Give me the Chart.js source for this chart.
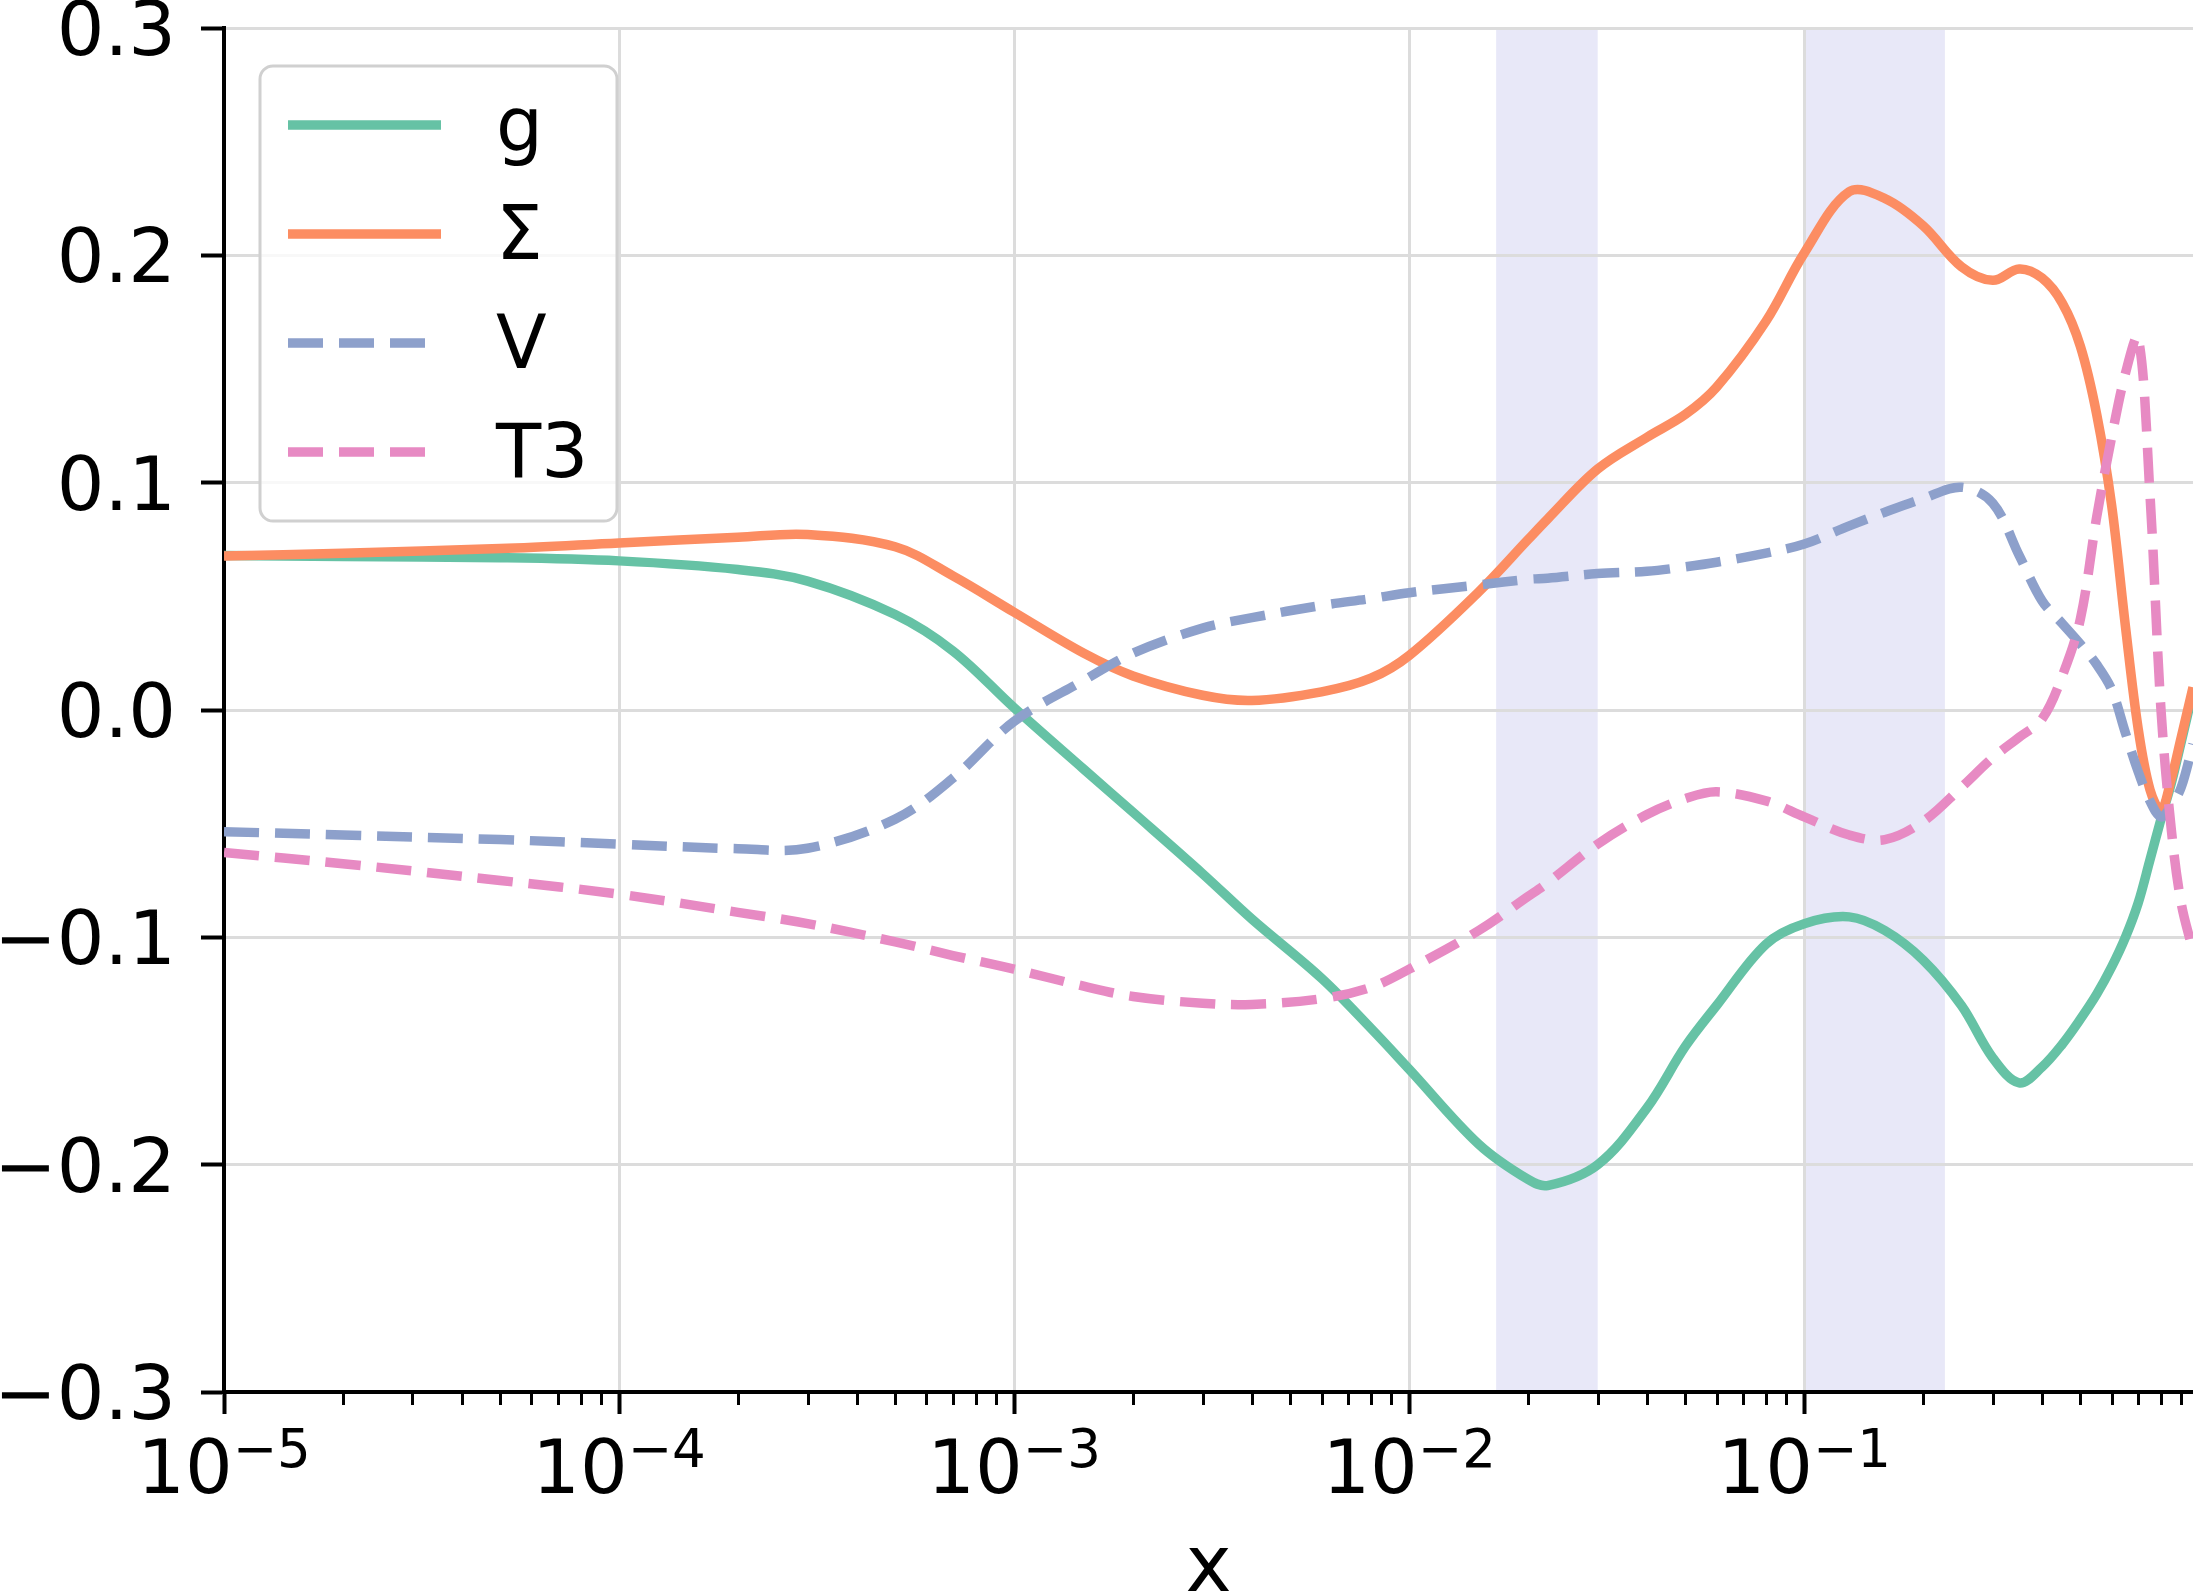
<!DOCTYPE html>
<html>
<head>
<meta charset="utf-8">
<script src="https://cdn.jsdelivr.net/npm/chart.js@4.4.0/dist/chart.umd.min.js"></script>
<style>
  html, body { margin: 0; padding: 0; background: #fff; }
  #wrap { width: 2193px; height: 1596px; }
</style>
</head>
<body>
<div id="wrap"><canvas id="pdfChart" width="2193" height="1596"></canvas></div>
<script>
const xValues = [0.00001, 0.00002, 0.00005, 0.0001, 0.0002, 0.0003, 0.0005, 0.0007,
  0.001, 0.0015, 0.002, 0.003, 0.004, 0.006, 0.008,
  0.01, 0.015, 0.02, 0.0224, 0.03, 0.04, 0.05, 0.06, 0.08,
  0.1, 0.13, 0.16, 0.2, 0.25, 0.3, 0.35, 0.4, 0.45, 0.5, 0.55, 0.6, 0.65, 0.7, 0.75, 0.8, 0.85, 0.9, 0.964];

const gValues = [0.068, 0.0675, 0.067, 0.0656, 0.0618, 0.0567, 0.042, 0.026,
  0.001, -0.026, -0.045, -0.072, -0.092, -0.118, -0.140,
  -0.158, -0.191, -0.2065, -0.2092, -0.200, -0.175, -0.148, -0.130, -0.103,
  -0.094, -0.091, -0.097, -0.110, -0.130, -0.153, -0.164, -0.157, -0.147, -0.136, -0.125, -0.113, -0.100, -0.085, -0.066, -0.048, -0.032, -0.014, 0.008];

const sigmaValues = [0.0677, 0.069, 0.071, 0.0735, 0.076, 0.0772, 0.0718, 0.059,
  0.043, 0.025, 0.015, 0.0065, 0.0042, 0.008, 0.014,
  0.024, 0.052, 0.075, 0.084, 0.106, 0.120, 0.130, 0.142, 0.171,
  0.201, 0.228, 0.225, 0.213, 0.195, 0.189, 0.194, 0.190, 0.179, 0.160, 0.130, 0.090, 0.037, -0.008, -0.035, -0.044, -0.030, -0.012, 0.010];

const vValues = [-0.0535, -0.055, -0.057, -0.059, -0.061, -0.0608, -0.048, -0.030,
  -0.005, 0.013, 0.025, 0.036, 0.0406, 0.046, 0.049,
  0.0516, 0.055, 0.0575, 0.058, 0.060, 0.061, 0.063, 0.065, 0.069,
  0.073, 0.081, 0.087, 0.093, 0.098, 0.091, 0.068, 0.048, 0.038, 0.029, 0.020, 0.009, -0.010, -0.027, -0.040, -0.047, -0.042, -0.034, -0.015];

const t3Values = [-0.0627, -0.0676, -0.075, -0.081, -0.089, -0.094, -0.102, -0.108,
  -0.114, -0.1215, -0.126, -0.129, -0.1295, -0.127, -0.122,
  -0.114, -0.097, -0.082, -0.076, -0.059, -0.046, -0.039, -0.036, -0.040,
  -0.047, -0.055, -0.057, -0.049, -0.034, -0.021, -0.012, -0.004, 0.015, 0.040, 0.085, 0.120, 0.148, 0.164, 0.095, 0.000, -0.053, -0.085, -0.106];

const seriesLabels = ['g', '\u03A3', 'V', 'T3'];
const seriesColors = ['#66c2a5', '#fc8d62', '#8da0cb', '#e78ac3'];

// shaded x ranges
const bandStarts = [0.0166, 0.1];
const bandEnds = [0.030, 0.227];

// axis ticks
const xDecades = [0.00001, 0.0001, 0.001, 0.01, 0.1];
const xDecadeExponents = ['\u22125', '\u22124', '\u22123', '\u22122', '\u22121'];
const xMin = 0.00001, xMax = 0.964;
const yMin = -0.3, yMax = 0.3, yStep = 0.1;

const FONT = 'DejaVu Sans';
Chart.defaults.font.family = FONT;
Chart.defaults.color = '#000';

function toPoints(vals) {
  return xValues.map((x, i) => ({ x: x, y: vals[i] }));
}

function isDecade(v) {
  const l = Math.log10(v);
  return Math.abs(l - Math.round(l)) < 1e-6;
}

function yLabel(v) {
  return Math.abs(v) < 1e-9 ? '0.0' : Number(v).toFixed(1).replace('-', '\u2212');
}

// lavender spans behind the grid
const bandPlugin = {
  id: 'bands',
  beforeDraw(chart) {
    const { ctx, chartArea, scales } = chart;
    ctx.save();
    ctx.fillStyle = '#e8e8f8';
    bandStarts.forEach((s, i) => {
      const a = scales.x.getPixelForValue(s);
      const b = scales.x.getPixelForValue(bandEnds[i]);
      ctx.fillRect(a, chartArea.top, b - a, chartArea.bottom - chartArea.top);
    });
    ctx.restore();
  }
};

// minor log ticks, 10^n labels and y labels
const axisPlugin = {
  id: 'axisDeco',
  afterDraw(chart) {
    const { ctx, chartArea } = chart;
    const xs = chart.scales.x;
    const ys = chart.scales.y;
    ctx.save();
    ctx.strokeStyle = '#000';
    ctx.lineWidth = 3;
    xDecades.forEach(d => {
      for (let k = 2; k <= 9; k++) {
        const v = k * d;
        if (v > xMax) break;
        const px = Math.round(xs.getPixelForValue(v)) + 0.5;
        ctx.beginPath();
        ctx.moveTo(px, chartArea.bottom);
        ctx.lineTo(px, chartArea.bottom + 13);
        ctx.stroke();
      }
    });
    ctx.fillStyle = '#000';
    ctx.textBaseline = 'alphabetic';
    ctx.textAlign = 'left';
    xDecades.forEach((d, i) => {
      const px = xs.getPixelForValue(d);
      ctx.font = '75px "' + FONT + '"';
      const w1 = ctx.measureText('10').width;
      ctx.font = '53px "' + FONT + '"';
      const w2 = ctx.measureText(xDecadeExponents[i]).width;
      const start = px - (w1 + w2) / 2;
      ctx.font = '75px "' + FONT + '"';
      ctx.fillText('10', start, chartArea.bottom + 101);
      ctx.font = '53px "' + FONT + '"';
      ctx.fillText(xDecadeExponents[i], start + w1, chartArea.bottom + 75);
    });
    ctx.font = '75px "' + FONT + '"';
    ctx.textAlign = 'right';
    ys.ticks.forEach(t => {
      const py = ys.getPixelForValue(t.value);
      ctx.fillText(yLabel(t.value), chartArea.left - 48, py + 27);
    });
    ctx.restore();
  }
};

// matplotlib-like legend box, upper left
const legendPlugin = {
  id: 'boxLegend',
  afterDraw(chart) {
    const { ctx } = chart;
    const box = { x: 260, y: 66, w: 357, h: 455, r: 13 };
    ctx.save();
    ctx.beginPath();
    ctx.roundRect(box.x, box.y, box.w, box.h, box.r);
    ctx.fillStyle = 'rgba(255,255,255,0.8)';
    ctx.fill();
    ctx.lineWidth = 3;
    ctx.strokeStyle = '#d0d0d0';
    ctx.stroke();
    chart.data.datasets.forEach((ds, i) => {
      const y = 125 + i * 109;
      ctx.beginPath();
      ctx.setLineDash(ds.borderDash || []);
      ctx.lineWidth = ds.borderWidth;
      ctx.strokeStyle = ds.borderColor;
      ctx.lineCap = 'butt';
      ctx.moveTo(288, y);
      ctx.lineTo(ds.borderDash ? 430 : 441, y);
      ctx.stroke();
      ctx.setLineDash([]);
      ctx.fillStyle = '#000';
      ctx.font = '74px "' + FONT + '"';
      ctx.textBaseline = 'alphabetic';
      ctx.textAlign = 'left';
      ctx.fillText(ds.label, 496, y + 25);
    });
    ctx.restore();
  }
};

const dashed = [35, 16];
const datasets = [gValues, sigmaValues, vValues, t3Values].map((vals, i) => ({
  label: seriesLabels[i],
  data: toPoints(vals),
  borderColor: seriesColors[i],
  backgroundColor: seriesColors[i],
  borderWidth: 9.5,
  borderDash: i >= 2 ? dashed : undefined,
  borderJoinStyle: 'round',
  pointRadius: 0,
  tension: 0.35,
  fill: false,
  order: 4 - i
}));

new Chart(document.getElementById('pdfChart').getContext('2d'), {
  type: 'line',
  data: { datasets: datasets },
  options: {
    responsive: false,
    devicePixelRatio: 1,
    animation: false,
    layout: { padding: { top: 28, right: 0, bottom: 0, left: 0 } },
    plugins: {
      legend: { display: false },
      tooltip: { enabled: false },
      title: { display: false }
    },
    scales: {
      x: {
        type: 'logarithmic',
        bounds: 'data',
        min: xMin,
        max: xMax,
        afterBuildTicks(scale) {
          const t = [];
          xDecades.forEach(d => {
            for (let k = 1; k <= 9; k++) {
              if (k * d <= xMax) t.push({ value: k * d });
            }
          });
          scale.ticks = t;
        },
        afterFit(scale) {
          scale.height = 204;
          scale.paddingLeft = 0;
          scale.paddingRight = 0;
        },
        ticks: { display: false },
        grid: {
          color: ctx => (ctx.tick && isDecade(ctx.tick.value)) ? '#dcdcdc' : 'rgba(0,0,0,0)',
          lineWidth: 3,
          drawTicks: true,
          tickLength: 22,
          tickWidth: 4,
          tickColor: ctx => (ctx.tick && isDecade(ctx.tick.value)) ? '#000' : 'rgba(0,0,0,0)'
        },
        border: { display: true, color: '#000', width: 4 },
        title: {
          display: true,
          text: 'x',
          font: { size: 78, lineHeight: 0.62 },
          padding: { top: 0, bottom: 1 },
          color: '#000'
        }
      },
      y: {
        type: 'linear',
        min: yMin,
        max: yMax,
        afterFit(scale) {
          scale.width = 224;
          scale.paddingTop = 0;
          scale.paddingBottom = 0;
        },
        ticks: {
          stepSize: yStep,
          display: false
        },
        grid: {
          color: '#dcdcdc',
          lineWidth: 3,
          drawTicks: true,
          tickLength: 23,
          tickWidth: 4,
          tickColor: '#000'
        },
        border: { display: true, color: '#000', width: 4 }
      }
    }
  },
  plugins: [bandPlugin, axisPlugin, legendPlugin]
});
</script>
</body>
</html>
